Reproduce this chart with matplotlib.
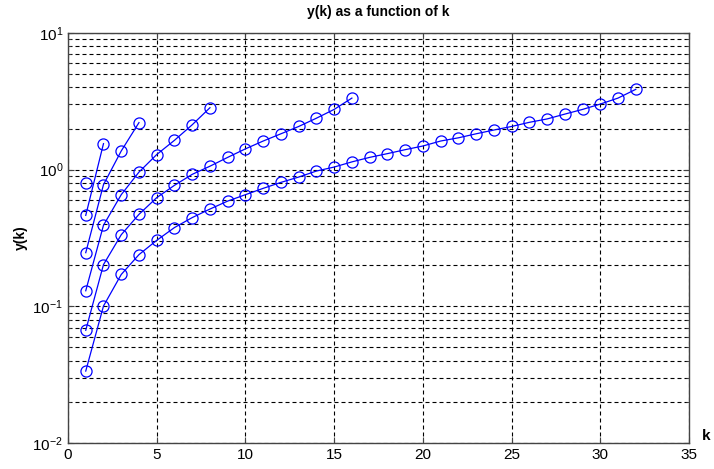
import matplotlib
matplotlib.use("Agg")
import matplotlib.pyplot as plt
from matplotlib.ticker import LogLocator, NullFormatter, MultipleLocator

# y(k) for runs of length N = 1, 2, 4, 8, 16, 32
y_n1 = [0.80]
y_n2 = [0.463, 1.55]
y_n4 = [0.247, 0.777, 1.37, 2.21]
y_n8 = [0.130, 0.392, 0.656, 0.960, 1.29, 1.64, 2.13, 2.84]
y_n16 = [0.0668, 0.202, 0.334, 0.471, 0.624, 0.768, 0.924, 1.06,
         1.23, 1.42, 1.62, 1.83, 2.07, 2.38, 2.76, 3.34]
y_n32 = [0.0336, 0.1005, 0.171, 0.239, 0.304, 0.377, 0.446, 0.515,
         0.589, 0.656, 0.730, 0.807, 0.883, 0.977, 1.045, 1.14,
         1.23, 1.31, 1.40, 1.49, 1.62, 1.71, 1.83, 1.95,
         2.07, 2.22, 2.35, 2.55, 2.76, 3.02, 3.34, 3.87]
series = [y_n1, y_n2, y_n4, y_n8, y_n16, y_n32]

plt.rcParams["font.family"] = ["Liberation Sans", "DejaVu Sans"]

fig = plt.figure(figsize=(7.14, 4.69), dpi=100)
ax = fig.add_axes([68 / 714, 1 - 443 / 469, 621 / 714, 410 / 469])

for ys in series:
    ks = list(range(1, len(ys) + 1))
    ax.semilogy(ks, ys, color="blue", linewidth=0.9, marker="o",
                markersize=8, markerfacecolor="none",
                markeredgecolor="blue", markeredgewidth=0.9, zorder=3)

ax.set_xlim(0, 35)
ax.set_ylim(1e-2, 1e1)
ax.xaxis.set_major_locator(MultipleLocator(5))
ax.yaxis.set_major_locator(LogLocator(base=10))
ax.yaxis.set_minor_locator(LogLocator(base=10, subs=range(2, 10)))
ax.yaxis.set_minor_formatter(NullFormatter())

grid_style = dict(color="black", linestyle=(0, (3.6, 2.7)), linewidth=0.8)
ax.grid(True, which="major", axis="both", **grid_style)
ax.grid(True, which="minor", axis="y", **grid_style)

ax.tick_params(which="both", direction="in", top=True, right=True,
               labelsize=11, color="#444444")
ax.tick_params(which="major", length=4)
ax.tick_params(which="minor", length=2)
for sp in ax.spines.values():
    sp.set_color("#444444")
    sp.set_linewidth(1.0)

ax.set_title("y(k) as a function of k", fontsize=10, fontweight="bold", pad=12)
ax.set_ylabel("y(k)", fontsize=10, fontweight="bold")
ax.yaxis.set_label_coords(-0.065, 0.5)
ax.text(1.02, 0.0, "k", transform=ax.transAxes, fontsize=11,
        fontweight="bold", ha="left", va="bottom")

fig.savefig("out.png", dpi=100, facecolor="white")
